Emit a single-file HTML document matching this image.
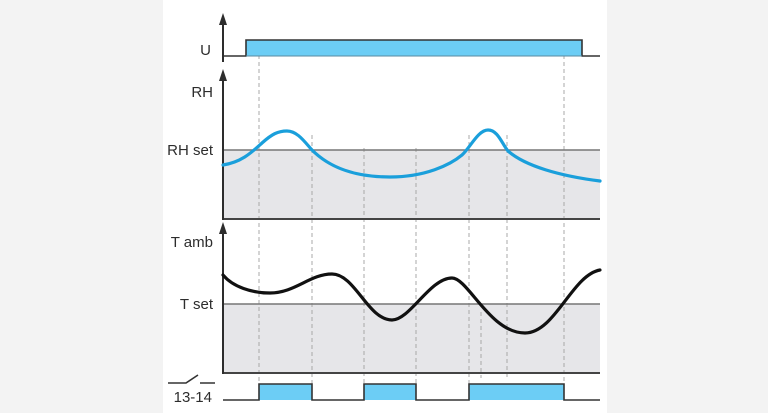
<!DOCTYPE html>
<html>
<head>
<meta charset="utf-8">
<style>
html,body{margin:0;padding:0;background:#f3f3f3;}
svg{display:block;}
text{font-family:"Liberation Sans",Arial,sans-serif;font-size:15px;fill:#2d2d2d;}
</style>
</head>
<body>
<svg width="768" height="413" viewBox="0 0 768 413" xmlns="http://www.w3.org/2000/svg">
  <rect x="0" y="0" width="768" height="413" fill="#f3f3f3"/>
  <rect x="163" y="0" width="444" height="413" fill="#ffffff"/>

  <!-- shaded regions -->
  <rect x="223" y="150" width="377" height="69" fill="#e6e6e9"/>
  <rect x="223" y="304" width="377" height="69" fill="#e6e6e9"/>

  <!-- dashed verticals -->
  <g stroke="#a8a8a8" stroke-width="1" stroke-dasharray="4,3" fill="none">
    <line x1="259" y1="41" x2="259" y2="384"/>
    <line x1="312" y1="135" x2="312" y2="384"/>
    <line x1="364" y1="148" x2="364" y2="384"/>
    <line x1="416" y1="148" x2="416" y2="384"/>
    <line x1="469" y1="135" x2="469" y2="384"/>
    <line x1="481" y1="312" x2="481" y2="378"/>
    <line x1="507" y1="135" x2="507" y2="378"/>
    <line x1="564" y1="41" x2="564" y2="384"/>
  </g>

  <!-- U signal -->
  <rect x="246" y="40" width="336" height="16" fill="#6ccdf5"/>
  <path d="M223,56 H246 V40 H582 V56 H600" fill="none" stroke="#333" stroke-width="1.6"/>
  <line x1="246" y1="56" x2="582" y2="56" stroke="#5a8aa0" stroke-width="1"/>

  <!-- 13-14 signal -->
  <rect x="259" y="384" width="53" height="16" fill="#6ccdf5"/>
  <rect x="364" y="384" width="52" height="16" fill="#6ccdf5"/>
  <rect x="469" y="384" width="95" height="16" fill="#6ccdf5"/>
  <path d="M223,400 H259 V384 H312 V400 H364 V384 H416 V400 H469 V384 H564 V400 H600" fill="none" stroke="#333" stroke-width="1.6"/>

  <!-- set lines & bottoms -->
  <line x1="223" y1="150" x2="600" y2="150" stroke="#777" stroke-width="1.5"/>
  <line x1="223" y1="219" x2="600" y2="219" stroke="#444" stroke-width="2"/>
  <line x1="223" y1="304" x2="600" y2="304" stroke="#777" stroke-width="1.5"/>
  <line x1="223" y1="373" x2="600" y2="373" stroke="#444" stroke-width="2"/>

  <!-- axes -->
  <g stroke="#2d2d2d" stroke-width="2" fill="none">
    <line x1="223" y1="22" x2="223" y2="62"/>
    <line x1="223" y1="78" x2="223" y2="220"/>
    <line x1="223" y1="231" x2="223" y2="374"/>
  </g>
  <g fill="#2d2d2d">
    <polygon points="223,13 219,25 227,25"/>
    <polygon points="223,69 219,81 227,81"/>
    <polygon points="223,222 219,234 227,234"/>
  </g>

  <!-- RH curve -->
  <path d="M223,165 C242,162 252,152 262,143 C272,134 278,131 287,131 C297,131 304,141 312,150 C330,168 355,177 390,177 C425,177 450,165 462,155 C470,148 478,130 488,130 C498,130 502,144 508,151 C525,166 560,176 600,181"
        fill="none" stroke="#1a9fdb" stroke-width="3.2" stroke-linecap="round"/>

  <!-- T curve -->
  <path d="M223,275 C233,287 252,293 270,293 C295,293 310,274 332,274 C355,274 368,320 392,320 C410,320 430,278 452,278 C468,278 490,333 525,333 C555,333 572,275 600,270"
        fill="none" stroke="#111" stroke-width="3.2" stroke-linecap="round"/>

  <!-- switch symbol -->
  <path d="M168,383 H186 L198,375 M200,383 H215" fill="none" stroke="#333" stroke-width="1.6"/>

  <!-- labels -->
  <text x="211" y="55" text-anchor="end">U</text>
  <text x="213" y="97" text-anchor="end">RH</text>
  <text x="213" y="155" text-anchor="end">RH set</text>
  <text x="213" y="247" text-anchor="end">T amb</text>
  <text x="213" y="309" text-anchor="end">T set</text>
  <text x="212" y="402" text-anchor="end">13-14</text>
</svg>
</body>
</html>
